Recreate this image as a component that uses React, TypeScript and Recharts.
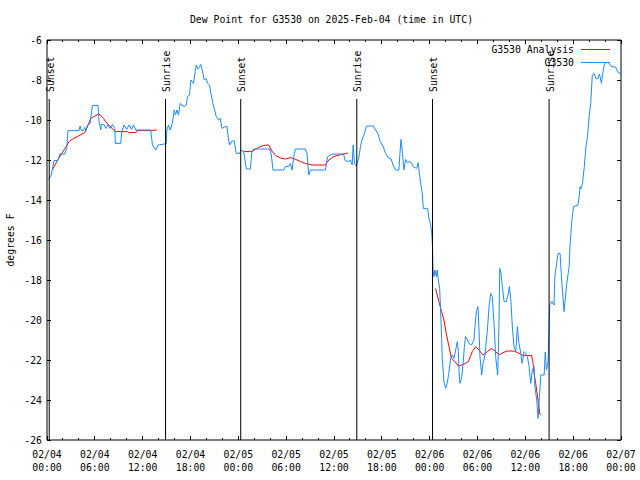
import React from 'react';
import { LineChart, Line, XAxis, YAxis, ReferenceLine, ReferenceDot, Legend } from 'recharts';

const FONT = '"DejaVu Sans Mono", "Liberation Mono", monospace';
const FS = 9.8;
const RED = '#ff0000';
const BLUE = '#1a8cff';

const chartTitle = 'Dew Point for G3530 on 2025-Feb-04 (time in UTC)';
const yAxisTitle = 'degrees F';
const seriesNames = ['G3530 Analysis', 'G3530'];

// hours since 2025-02-04 00:00 UTC
const xTickHours = [0, 2, 4, 6, 8, 10, 12, 14, 16, 18, 20, 22, 24, 26, 28, 30, 32, 34, 36, 38, 40, 42, 44, 46, 48, 50, 52, 54, 56, 58, 60, 62, 64, 66, 68, 70, 72];
const xMajorDates = ['02/04', '02/04', '02/04', '02/04', '02/05', '02/05', '02/05', '02/05', '02/06', '02/06', '02/06', '02/06', '02/07'];
const xMajorTimes = ['00:00', '06:00', '12:00', '18:00', '00:00', '06:00', '12:00', '18:00', '00:00', '06:00', '12:00', '18:00', '00:00'];
const yTicks = [-26, -24, -22, -20, -18, -16, -14, -12, -10, -8, -6];

const sunTimes = [0.28, 14.87, 24.3, 38.86, 48.36, 62.98];
const sunLabels = ['Sunset', 'Sunrise', 'Sunset', 'Sunrise', 'Sunset', 'Sunrise'];

// observed dew point [hour, degF]
const g3530Obs: [number, number][] = [
  [0.21, -12.97], [0.54, -12.75], [0.88, -12.03], [1.38, -12.03], [1.63, -11.7], [2.22, -11.7], [2.47, -11.42], [2.64, -10.53],
  [4.02, -10.53], [4.15, -10.3], [4.31, -10.53], [4.56, -10.53], [4.73, -10.37], [4.9, -10.53], [5.07, -10.25], [5.4, -10.17],
  [5.7, -9.27], [6.4, -9.27], [6.53, -10.08], [6.74, -10.5], [6.83, -10.22], [7.16, -10.22], [7.37, -10.42], [7.66, -10.22],
  [7.91, -10.42], [8.21, -10.22], [8.5, -10.42], [8.58, -11.17], [9.25, -11.17], [9.38, -10.58], [9.67, -10.25], [10.0, -10.47],
  [10.3, -10.25], [10.6, -10.47], [10.85, -10.25], [11.14, -10.5], [13.0, -10.5], [13.23, -11.25], [13.65, -11.5], [13.94, -11.25],
  [14.7, -11.2], [14.95, -11.2], [15.03, -10.5], [15.24, -10.25], [15.45, -10.5], [15.66, -10.25], [15.79, -10.0], [15.95, -9.5],
  [16.12, -9.75], [16.29, -9.5], [16.5, -9.75], [16.71, -9.17], [16.92, -9.25], [17.21, -9.33], [17.46, -9.25], [17.63, -8.83],
  [17.88, -8.75], [18.05, -8.0], [18.38, -8.17], [18.59, -7.58], [18.72, -7.25], [18.93, -7.45], [19.14, -7.33], [19.3, -7.22],
  [19.47, -7.5], [19.72, -8.0], [19.97, -7.92], [20.14, -8.17], [20.39, -8.25], [20.56, -8.67], [20.81, -9.17], [20.98, -9.42],
  [21.23, -9.83], [21.52, -10.0], [21.73, -9.92], [21.94, -10.42], [22.36, -10.33], [22.57, -10.33], [22.78, -11.0], [22.9, -11.25],
  [23.2, -11.05], [23.49, -11.05], [23.74, -11.67], [24.16, -11.67], [24.33, -11.5], [24.6, -11.55], [24.75, -11.75], [25.0, -12.45],
  [25.5, -12.45], [25.71, -11.58], [25.92, -11.45], [27.93, -11.45], [28.14, -11.75], [28.35, -12.5], [29.69, -12.5], [29.9, -12.33],
  [30.3, -12.33], [30.53, -12.17], [30.74, -12.5], [30.95, -11.83], [31.16, -11.45], [32.41, -11.45], [32.62, -11.67], [32.83, -12.75],
  [33.04, -12.5], [34.92, -12.5], [35.2, -11.83], [35.55, -11.75], [35.97, -11.7], [37.2, -11.7], [37.4, -12.03], [37.8, -12.08],
  [38.07, -12.0], [38.28, -12.25], [38.4, -11.25], [38.57, -12.17], [38.8, -12.3], [39.1, -11.92], [39.32, -11.33], [39.5, -11.0],
  [39.82, -10.67], [40.07, -10.3], [40.95, -10.3], [41.2, -10.5], [41.5, -10.67], [41.8, -11.08], [42.17, -11.33], [42.46, -11.67],
  [42.88, -11.92], [43.17, -11.95], [43.4, -12.25], [43.72, -12.5], [44.14, -12.5], [44.26, -11.75], [44.4, -10.97], [44.6, -11.67],
  [44.77, -12.5], [44.98, -11.97], [45.19, -12.13], [45.4, -12.08], [45.7, -12.13], [45.94, -12.33], [46.36, -12.42], [46.56, -12.13],
  [46.73, -12.75], [46.94, -13.33], [47.07, -13.67], [47.2, -14.42], [47.75, -14.42], [47.9, -14.9], [48.1, -15.2], [48.25, -15.6],
  [48.35, -16.3], [48.42, -17.47], [48.53, -17.83], [48.66, -17.5], [48.83, -17.83], [48.95, -17.5], [49.08, -18.0], [49.25, -18.42],
  [49.37, -19.5], [49.5, -20.92], [49.58, -21.92], [49.79, -23.08], [50.0, -23.42], [50.2, -23.17], [50.4, -22.67], [50.63, -21.92],
  [50.84, -21.75], [51.05, -21.92], [51.26, -21.5], [51.47, -21.08], [51.6, -21.58], [51.67, -22.5], [51.8, -23.17], [52.0, -22.92],
  [52.2, -22.17], [52.35, -21.33], [52.5, -20.83], [52.72, -20.97], [52.93, -21.17], [53.26, -21.25], [53.56, -21.0], [53.68, -20.33],
  [53.85, -19.58], [54.06, -19.33], [54.19, -20.5], [54.31, -21.83], [54.52, -22.75], [54.69, -22.17], [54.94, -21.75], [55.24, -20.5],
  [55.45, -19.33], [55.66, -18.67], [55.86, -18.83], [56.07, -20.17], [56.28, -21.83], [56.41, -22.33], [56.53, -22.75], [56.62, -21.5],
  [56.7, -20.0], [56.79, -17.42], [56.95, -17.67], [57.12, -18.33], [57.33, -19.08], [57.62, -19.08], [57.87, -18.67], [58.0, -18.33],
  [58.2, -19.08], [58.37, -20.33], [58.58, -21.33], [58.8, -21.58], [59.0, -20.33], [59.2, -21.17], [59.43, -21.67], [59.6, -22.17],
  [59.84, -21.58], [60.05, -21.67], [60.26, -21.83], [60.47, -22.33], [60.68, -23.17], [60.88, -22.5], [61.1, -22.33], [61.2, -23.33],
  [61.43, -24.0], [61.6, -24.92], [61.77, -23.83], [61.94, -22.75], [62.36, -22.75], [62.5, -21.6], [62.65, -22.5], [62.85, -22.1],
  [62.98, -20.33], [63.06, -19.25], [63.35, -19.08], [63.6, -19.25], [63.7, -17.83], [63.96, -17.08], [64.1, -16.67], [64.36, -16.67],
  [64.5, -17.67], [64.65, -18.5], [64.86, -19.58], [64.95, -19.17], [65.2, -18.17], [65.5, -17.33], [65.6, -16.33], [65.8, -15.17],
  [66.04, -14.33], [66.6, -14.25], [66.75, -13.83], [66.87, -13.33], [66.95, -13.45], [67.05, -13.33], [67.17, -13.17], [67.4, -12.33],
  [67.6, -11.33], [67.8, -10.83], [68.0, -9.83], [68.2, -9.17], [68.4, -7.75], [68.63, -7.67], [68.84, -7.92], [69.1, -7.92],
  [69.3, -7.7], [69.55, -8.17], [69.67, -7.75], [69.9, -7.25], [70.1, -7.12], [70.43, -7.12], [70.7, -7.3], [71.35, -7.37],
  [71.64, -7.63], [71.97, -7.67],
];

// analysis, three night-time segments [hour, degF]
const analysisNight1: [number, number][] = [
  [0.67, -12.5], [1.2, -12.1], [1.8, -11.7], [2.35, -11.37], [2.76, -11.08], [3.3, -10.93], [3.81, -10.83], [4.3, -10.72],
  [4.73, -10.63], [5.1, -10.3], [5.49, -9.92], [6.0, -9.8], [6.53, -9.7], [7.07, -9.92], [7.5, -10.15], [8.0, -10.35],
  [8.42, -10.53], [8.63, -10.58], [10.1, -10.58], [10.2, -10.63], [11.14, -10.63], [11.26, -10.53], [13.0, -10.53], [13.77, -10.5],
];
const analysisNight2: [number, number][] = [
  [24.66, -11.58], [25.7, -11.58], [26.5, -11.37], [27.2, -11.27], [27.8, -11.25], [28.2, -11.55], [28.7, -11.78], [29.3, -11.9],
  [29.9, -11.95], [30.5, -11.88], [31.1, -11.95], [31.8, -12.08], [32.4, -12.17], [33.25, -12.25], [34.9, -12.25], [35.35, -12.0],
  [35.97, -11.82], [37.2, -11.7], [37.73, -11.65],
];
const analysisNight3: [number, number][] = [
  [48.74, -18.42], [49.16, -19.08], [49.5, -19.58], [49.79, -20.0], [50.08, -20.67], [50.42, -21.33], [50.75, -21.92], [51.17, -22.08],
  [51.6, -22.3], [52.0, -22.25], [52.5, -22.17], [52.85, -22.08], [53.35, -21.58], [53.77, -21.33], [54.19, -21.5], [54.69, -21.75],
  [55.24, -21.58], [55.78, -21.42], [56.28, -21.58], [56.7, -21.75], [57.2, -21.63], [57.75, -21.55], [58.58, -21.55], [59.2, -21.67],
  [59.6, -21.75], [60.26, -21.78], [60.8, -21.78], [60.97, -22.17], [61.1, -22.67], [61.3, -23.17], [61.6, -24.0], [61.8, -24.67],
  [61.93, -24.75],
];

const obsData = g3530Obs.map(([t, v]) => ({ t, v }));
const analysisData: { t: number; v: number | null }[] = [];
[analysisNight1, analysisNight2, analysisNight3].forEach((seg, i) => {
  if (i > 0) analysisData.push({ t: (seg[0][0] + analysisData[analysisData.length - 1].t) / 2, v: null });
  seg.forEach(([t, v]) => analysisData.push({ t, v }));
});

const SUN_LINE_TOP = -8.95;
const SUN_LABEL_BASE = -8.6;

function BottomTick(p: any) {
  const v = p.payload.value as number;
  const major = v % 6 === 0;
  const i = v / 6;
  return (
    <g>
      <line x1={p.x} x2={p.x} y1={p.y} y2={p.y - (major ? 4 : 2)} stroke="#000" shapeRendering="crispEdges" />
      {major && (
        <text textAnchor="middle" fontFamily={FONT} fontSize={FS} fill="#000">
          <tspan x={p.x} y={p.y + 18}>{xMajorDates[i]}</tspan>
          <tspan x={p.x} y={p.y + 31}>{xMajorTimes[i]}</tspan>
        </text>
      )}
    </g>
  );
}

function TopTick(p: any) {
  const v = p.payload.value as number;
  const major = v % 6 === 0;
  return <line x1={p.x} x2={p.x} y1={p.y} y2={p.y + (major ? 4 : 2)} stroke="#000" shapeRendering="crispEdges" />;
}

function LeftTick(p: any) {
  return (
    <g>
      <line x1={p.x} x2={p.x + 4} y1={p.y} y2={p.y} stroke="#000" shapeRendering="crispEdges" />
      <text x={p.x - 5} y={p.y + 3.5} textAnchor="end" fontFamily={FONT} fontSize={FS} fill="#000">
        {p.payload.value}
      </text>
    </g>
  );
}

function RightTick(p: any) {
  return <line x1={p.x} x2={p.x - 4} y1={p.y} y2={p.y} stroke="#000" shapeRendering="crispEdges" />;
}

function renderTitle(props: any) {
  const vb = props && props.viewBox ? props.viewBox : { x: 47, y: 39, width: 574, height: 1 };
  return (
    <text x={vb.x + vb.width / 2 - 2.5} y={vb.y + (vb.height || 0) - 17} textAnchor="middle" fontFamily={FONT} fontSize={FS} fill="#000">
      {chartTitle}
    </text>
  );
}

function renderYTitle(props: any) {
  const vb = props && props.viewBox ? props.viewBox : { x: 0, y: 40, height: 400 };
  const cy = vb.y + vb.height / 2;
  return (
    <text transform={`translate(13.5, ${cy}) rotate(-90)`} textAnchor="middle" fontFamily={FONT} fontSize={FS} fill="#000">
      {yAxisTitle}
    </text>
  );
}

function makeSunLabel(text: string) {
  return (p: any) => (
    <text
      transform={`translate(${p.cx + 4.5}, ${p.cy}) rotate(-90)`}
      textAnchor="start"
      fontFamily={FONT}
      fontSize={FS}
      fill="#000"
    >
      {text}
    </text>
  );
}

function LegendBox() {
  const colors = [RED, BLUE];
  return (
    <div style={{ fontFamily: FONT, fontSize: FS, color: '#000' }}>
      {seriesNames.map((n, i) => (
        <div key={n} style={{ display: 'flex', justifyContent: 'flex-end', alignItems: 'center', height: 13 }}>
          <span style={{ lineHeight: '13px', whiteSpace: 'pre' }}>{n}</span>
          <svg width={36} height={13} style={{ display: 'block' }}>
            <line x1={7} x2={36} y1={6.5} y2={6.5} stroke={colors[i]} strokeWidth={1} />
          </svg>
        </div>
      ))}
    </div>
  );
}

export default function App() {
  return (
    <div style={{ position: 'absolute', left: 0, top: 0, width: 640, height: 480, background: '#fff' }}>
      <LineChart width={640} height={480} margin={{ top: 39, right: 18, bottom: 0, left: 0 }}>
        <XAxis
          dataKey="t"
          type="number"
          domain={[0, 72]}
          ticks={xTickHours}
          interval={0}
          height={40}
          tickSize={0}
          tickMargin={0}
          tickLine={false}
          tick={<BottomTick />}
          axisLine={{ stroke: '#000' }}
          allowDataOverflow
        />
        <XAxis
          xAxisId="top"
          orientation="top"
          dataKey="t"
          type="number"
          domain={[0, 72]}
          ticks={xTickHours}
          interval={0}
          height={1}
          tickSize={0}
          tickMargin={0}
          tickLine={false}
          tick={<TopTick />}
          axisLine={{ stroke: '#000' }}
          allowDataOverflow
          label={renderTitle}
        />
        <YAxis
          type="number"
          domain={[-26, -6]}
          ticks={yTicks}
          interval={0}
          width={47}
          tickSize={0}
          tickMargin={0}
          tickLine={false}
          tick={<LeftTick />}
          axisLine={{ stroke: '#000' }}
          allowDataOverflow
          label={renderYTitle}
        />
        <YAxis
          yAxisId="right"
          orientation="right"
          type="number"
          domain={[-26, -6]}
          ticks={yTicks}
          interval={0}
          width={1}
          tickSize={0}
          tickMargin={0}
          tickLine={false}
          tick={<RightTick />}
          axisLine={{ stroke: '#000' }}
          allowDataOverflow
        />
        <Line
          data={analysisData}
          dataKey="v"
          name={seriesNames[0]}
          stroke={RED}
          strokeWidth={1}
          dot={false}
          activeDot={false}
          connectNulls={false}
          isAnimationActive={false}
        />
        <Line
          data={obsData}
          dataKey="v"
          name={seriesNames[1]}
          stroke={BLUE}
          strokeWidth={1}
          dot={false}
          activeDot={false}
          isAnimationActive={false}
        />
        {sunTimes.map((t, i) => (
          <ReferenceLine
            key={'l' + i}
            segment={[{ x: t, y: SUN_LINE_TOP }, { x: t, y: -26 }]}
            stroke="#000"
            strokeWidth={1}
            ifOverflow="visible"
          />
        ))}
        {sunTimes.map((t, i) => (
          <ReferenceDot
            key={'d' + i}
            x={t}
            y={SUN_LABEL_BASE}
            r={0}
            ifOverflow="visible"
            shape={makeSunLabel(sunLabels[i])}
          />
        ))}
        <Legend
          layout="vertical"
          align="center"
          verticalAlign="middle"
          content={<LegendBox />}
          wrapperStyle={{ top: 43, right: 30, left: 'auto', width: 'auto' }}
        />
      </LineChart>
    </div>
  );
}
